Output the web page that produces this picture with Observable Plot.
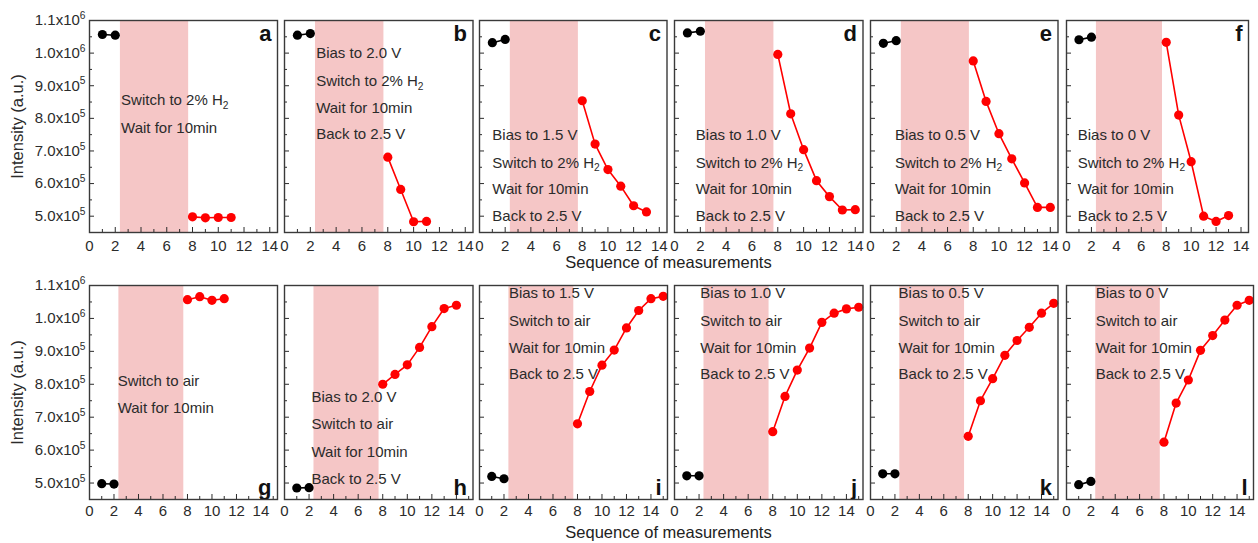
<!DOCTYPE html>
<html><head><meta charset="utf-8">
<script src="https://cdn.jsdelivr.net/npm/d3@7"></script>
<script src="https://cdn.jsdelivr.net/npm/@observablehq/plot@0.6"></script>
<style>
body{margin:0;background:#fff;font-family:"Liberation Sans",Arial,sans-serif;}
#fig{position:relative;width:1258px;height:543px;overflow:hidden;background:#fff;}
#fig svg{position:absolute;overflow:visible;background:transparent;}
.xt{position:absolute;font-size:16.5px;color:#222;white-space:nowrap;transform:translateX(-50%);line-height:1;}
</style></head><body><div id="fig"></div>
<script>
// ---------- data ----------
const panelLetters = ["a","b","c","d","e","f","g","h","i","j","k","l"];
const beforeX = [1, 2];
const afterStart = 8;
const shadeWindow = [2.4, 7.7];

const before_a = [1.057e6, 1.055e6];
const after_a  = [4.98e5, 4.95e5, 4.96e5, 4.96e5];
const before_b = [1.055e6, 1.060e6];
const after_b  = [6.81e5, 5.82e5, 4.83e5, 4.84e5];
const before_c = [1.032e6, 1.042e6];
const after_c  = [8.54e5, 7.21e5, 6.43e5, 5.92e5, 5.32e5, 5.13e5];
const before_d = [1.062e6, 1.067e6];
const after_d  = [9.96e5, 8.14e5, 7.04e5, 6.09e5, 5.60e5, 5.19e5, 5.20e5];
const before_e = [1.030e6, 1.038e6];
const after_e  = [9.76e5, 8.52e5, 7.53e5, 6.76e5, 6.02e5, 5.27e5, 5.27e5];
const before_f = [1.041e6, 1.049e6];
const after_f  = [1.033e6, 8.10e5, 6.67e5, 5.00e5, 4.84e5, 5.02e5];

const before_g = [4.98e5, 4.97e5];
const after_g  = [1.057e6, 1.066e6, 1.055e6, 1.060e6];
const before_h = [4.85e5, 4.86e5];
const after_h  = [8.00e5, 8.30e5, 8.59e5, 9.12e5, 9.75e5, 1.030e6, 1.040e6];
const before_i = [5.20e5, 5.13e5];
const after_i  = [6.80e5, 7.78e5, 8.58e5, 9.04e5, 9.71e5, 1.024e6, 1.060e6, 1.067e6];
const before_j = [5.22e5, 5.22e5];
const after_j  = [6.56e5, 7.63e5, 8.43e5, 9.10e5, 9.88e5, 1.016e6, 1.029e6, 1.034e6];
const before_k = [5.28e5, 5.28e5];
const after_k  = [6.42e5, 7.50e5, 8.17e5, 8.88e5, 9.33e5, 9.73e5, 1.016e6, 1.046e6];
const before_l = [4.95e5, 5.05e5];
const after_l  = [6.24e5, 7.43e5, 8.13e5, 9.03e5, 9.48e5, 9.95e5, 1.040e6, 1.055e6];

const notes_a = ["Switch to 2% H_2", "Wait for 10min"];
const notes_b = ["Bias to 2.0 V", "Switch to 2% H_2", "Wait for 10min", "Back to 2.5 V"];
const notes_c = ["Bias to 1.5 V", "Switch to 2% H_2", "Wait for 10min", "Back to 2.5 V"];
const notes_d = ["Bias to 1.0 V", "Switch to 2% H_2", "Wait for 10min", "Back to 2.5 V"];
const notes_e = ["Bias to 0.5 V", "Switch to 2% H_2", "Wait for 10min", "Back to 2.5 V"];
const notes_f = ["Bias to 0 V", "Switch to 2% H_2", "Wait for 10min", "Back to 2.5 V"];
const notes_g = ["Switch to air", "Wait for 10min"];
const notes_h = ["Bias to 2.0 V", "Switch to air", "Wait for 10min", "Back to 2.5 V"];
const notes_i = ["Bias to 1.5 V", "Switch to air", "Wait for 10min", "Back to 2.5 V"];
const notes_j = ["Bias to 1.0 V", "Switch to air", "Wait for 10min", "Back to 2.5 V"];
const notes_k = ["Bias to 0.5 V", "Switch to air", "Wait for 10min", "Back to 2.5 V"];
const notes_l = ["Bias to 0 V", "Switch to air", "Wait for 10min", "Back to 2.5 V"];

const yTicks = [5e5, 6e5, 7e5, 8e5, 9e5, 1.0e6, 1.1e6];
const yTickLabels = ["5.0x10^5", "6.0x10^5", "7.0x10^5", "8.0x10^5", "9.0x10^5", "1.0x10^6", "1.1x10^6"];
const yMinor = [5.5e5, 6.5e5, 7.5e5, 8.5e5, 9.5e5, 1.05e6];
const xTicks = [0, 2, 4, 6, 8, 10, 12, 14];
const xMinor = [1, 3, 5, 7, 9, 11, 13, 15];
const yTitle = "Intensity (a.u.)";
const xTitle = "Sequence of measurements";

// ---------- layout (pixels) ----------
const befores = [before_a,before_b,before_c,before_d,before_e,before_f,before_g,before_h,before_i,before_j,before_k,before_l];
const afters  = [after_a,after_b,after_c,after_d,after_e,after_f,after_g,after_h,after_i,after_j,after_k,after_l];
const notes   = [notes_a,notes_b,notes_c,notes_d,notes_e,notes_f,notes_g,notes_h,notes_i,notes_j,notes_k,notes_l];
// annotation anchor (data space): x start, y of first line, y step
const noteX = [2.45, 2.45, 1.0, 1.65, 1.9, 0.9, 2.3, 2.2, 2.4, 2.1, 2.3, 2.4];
const noteY = [[8.55e5,7.7e5],[1.0e6,9.13e5,8.3e5,7.5e5],
  ...Array(4).fill([7.47e5,6.63e5,5.82e5,5.0e5]),
  [8.09e5,7.26e5],[7.6e5,6.8e5,5.95e5,5.13e5],
  ...Array(4).fill([1.078e6,9.91e5,9.09e5,8.3e5])];

const frameLeft = [89, 283.5, 479, 673.5, 869.5, 1066];
const frameW = [[188,188.5,187.5,188.5,187.5,182],[188,188.5,188,188.5,187.5,187]];
const frameTop = [20, 285];
const frameH = [212, 214];
const xMax = [14.6, 15.35];

const ns = "http://www.w3.org/2000/svg";
function richify(svg){
  svg.querySelectorAll("text").forEach(t=>{
    if (t.querySelector("tspan")) return;
    const s = t.textContent;
    const m = s.match(/^(.*?)([\^_])(\S)(.*)$/);
    if(!m) return;
    t.textContent = "";
    const a = document.createElementNS(ns,"tspan"); a.textContent = m[1]; t.appendChild(a);
    const b = document.createElementNS(ns,"tspan"); b.textContent = m[3];
    b.setAttribute("font-size","0.68em");
    b.setAttribute("dy", m[2]==="^" ? "-0.6em" : "0.35em");
    t.appendChild(b);
  });
}

const fig = document.getElementById("fig");
for (let i = 0; i < 12; i++) {
  const r = i < 6 ? 0 : 1, c = i % 6;
  const fw = frameW[r][c], fh = frameH[r];
  const ml = c === 0 ? 89 : 4, mr = 6, mt = 4, mb = 30;
  const before = beforeX.map((x, k) => ({x, y: befores[i][k]}));
  const after = afters[i].map((y, k) => ({x: afterStart + k, y}));
  const noteData = notes[i].map((t, k) => ({t, x: noteX[i], y: noteY[i][k]}));
  const ink = "#2b2b2b";
  const marks = [
    Plot.rect([shadeWindow], {x1: d => d[0], x2: d => d[1], fill: "#f5c6c6"}),
    Plot.tickY(yTicks, {y: d => d, insetRight: fw - 5, stroke: ink, strokeWidth: 1}),
    Plot.tickY(yMinor, {y: d => d, insetRight: fw - 3, stroke: ink, strokeWidth: 1}),
    Plot.tickX(xTicks, {x: d => d, insetTop: fh - 5, stroke: ink, strokeWidth: 1}),
    Plot.tickX(xMinor.filter(v => v < xMax[r]), {x: d => d, insetTop: fh - 3, stroke: ink, strokeWidth: 1}),
    Plot.axisX(xTicks, {tickSize: 0, tickPadding: r === 0 ? 8 : 6, label: null, fontSize: 15, fill: ink}),
    Plot.text(noteData, {x: "x", y: "y", text: "t", textAnchor: "start", fontSize: 15, fill: ink}),
    Plot.line(before, {x: "x", y: "y", stroke: "#000", strokeWidth: 1.6}),
    Plot.dot(before, {x: "x", y: "y", r: 4.6, fill: "#000"}),
    Plot.line(after, {x: "x", y: "y", stroke: "#ff0000", strokeWidth: 1.6}),
    Plot.dot(after, {x: "x", y: "y", r: 4.6, fill: "#ff0000"}),
    Plot.text([panelLetters[i]], {text: d => d, frameAnchor: r === 0 ? "top-right" : "bottom-right",
      lineAnchor: r === 0 ? "top" : "bottom", dx: -6, dy: r === 0 ? 5 : -5,
      fontSize: 22, fontWeight: "bold", fill: "#111"}),
    Plot.frame({stroke: "#3a3a3a", strokeWidth: 1.4})
  ];
  if (c === 0) {
    marks.push(Plot.axisY(yTicks, {tickSize: 0, tickPadding: 4, fontSize: 15, fill: ink,
      tickFormat: d => yTickLabels[yTicks.indexOf(d)], label: null}));
    marks.push(Plot.axisY([], {tickSize: 0, label: yTitle, labelAnchor: "center", labelArrow: "none",
      labelOffset: 78, fontSize: 16.5, fill: ink}));
  }
  const svg = Plot.plot({
    width: ml + fw + mr, height: mt + fh + mb,
    marginLeft: ml, marginRight: mr, marginTop: mt, marginBottom: mb,
    x: {domain: [0, xMax[r]], axis: null},
    y: {domain: [4.5e5, 1.1e6], axis: null},
    style: {fontFamily: "Liberation Sans, Arial, sans-serif", background: "transparent", overflow: "visible", color: ink},
    marks
  });
  richify(svg);
  svg.style.left = (frameLeft[c] - ml) + "px";
  svg.style.top = (frameTop[r] - mt) + "px";
  fig.appendChild(svg);
}
[[254], [524]].forEach(([top]) => {
  const d = document.createElement("div");
  d.className = "xt"; d.textContent = xTitle;
  d.style.left = "668.5px"; d.style.top = top + "px";
  fig.appendChild(d);
});
</script></body></html>
